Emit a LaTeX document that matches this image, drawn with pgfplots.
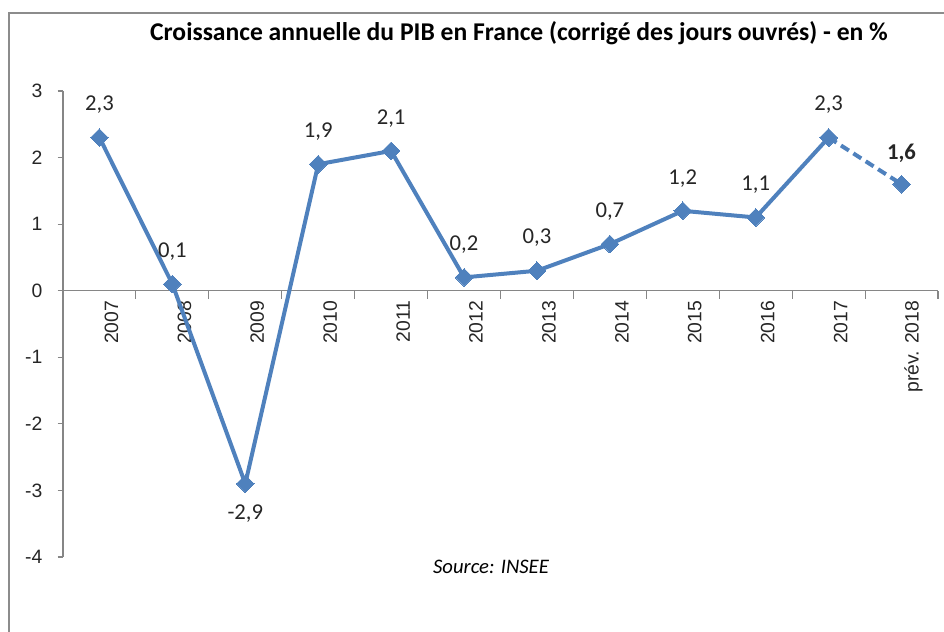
\documentclass[border=0pt]{standalone}
\usepackage{pgfplots}
\pgfplotsset{compat=1.18}
\usepackage{fontspec}
\setmainfont{Carlito}
\newfontfamily\arial{Liberation Sans}
\definecolor{serie}{HTML}{4F81BD}
\definecolor{axgray}{HTML}{868686}
\definecolor{framegray}{HTML}{8C8C8C}
\begin{document}
\begin{tikzpicture}[x=0.75pt,y=0.75pt]
\useasboundingbox (0,0) rectangle (944,631);
% chart frame
\draw[framegray, line width=1.6pt] (9,-5) -- (9,618) -- (950,618);
\node[font=\fontsize{19.2}{22}\selectfont\bfseries] at (519,598) {Croissance annuelle du PIB en France (corrigé des jours ouvrés) - en \%};
\node[font=\fontsize{15.5}{18}\selectfont\itshape] at (491,64) {Source: INSEE};
\begin{axis}[
  at={(47.25pt,55.5pt)}, anchor=south west,
  width=656.25pt, height=349.5pt, scale only axis,
  clip=false,
  xmin=-0.5, xmax=11.5, ymin=-4, ymax=3,
  axis y line*=left, axis x line*=middle,
  axis line style={axgray, line width=0.8pt},
  ytick={-4,...,3},
  xtick={0,...,11},
  xticklabels={2007,2008,2009,2010,2011,2012,2013,2014,2015,2016,2017,prév. 2018},
  major x tick style={draw=none},
  minor xtick={-0.5,0.5,...,11.5},
  minor x tick style={axgray, line width=0.8pt},
  xtick align=outside, ytick align=outside,
  major y tick style={axgray, line width=0.8pt},
  major tick length=4pt, minor tick length=6pt,
  /pgf/number format/assume math mode=true,
  ticklabel style={font=\arial\fontsize{14.5}{17}\selectfont, text=black!85},
  xticklabel style={rotate=90, anchor=east, yshift=-9pt},
  yticklabel style={xshift=-8pt},
  point meta=explicit symbolic,
  nodes near coords,
  visualization depends on={\thisrow{dy}\as\dy},
  every node near coord/.style={anchor=center, yshift=\dy pt, font=\fontsize{17}{20}\selectfont, text=black!85},
]
\addplot[serie, line width=3pt, mark=square*, mark size=4.7pt, mark options={rotate=45, fill=serie, draw=serie, line width=0pt, solid}]
table[meta=lab] {
x y lab dy
0 2.3 2,3 24.5
1 0.1 0,1 24.5
2 -2.9 -2,9 -22.5
3 1.9 1,9 24.5
4 2.1 2,1 24.5
5 0.2 0,2 24.5
6 0.3 0,3 24.5
7 0.7 0,7 24.5
8 1.2 1,2 24.5
9 1.1 1,1 24.5
10 2.3 2,3 24.5
};
\addplot[serie, line width=3pt, dashed, dash pattern=on 7pt off 4pt, mark=square*, mark size=4.7pt, mark options={rotate=45, fill=serie, draw=serie, line width=0pt, solid},
  every node near coord/.append style={font=\fontsize{17}{20}\selectfont\bfseries}]
table[meta=lab] {
x y lab dy
10 2.3 {} 24.5
11 1.6 1,6 23.5
};
\end{axis}
\end{tikzpicture}
\end{document}
